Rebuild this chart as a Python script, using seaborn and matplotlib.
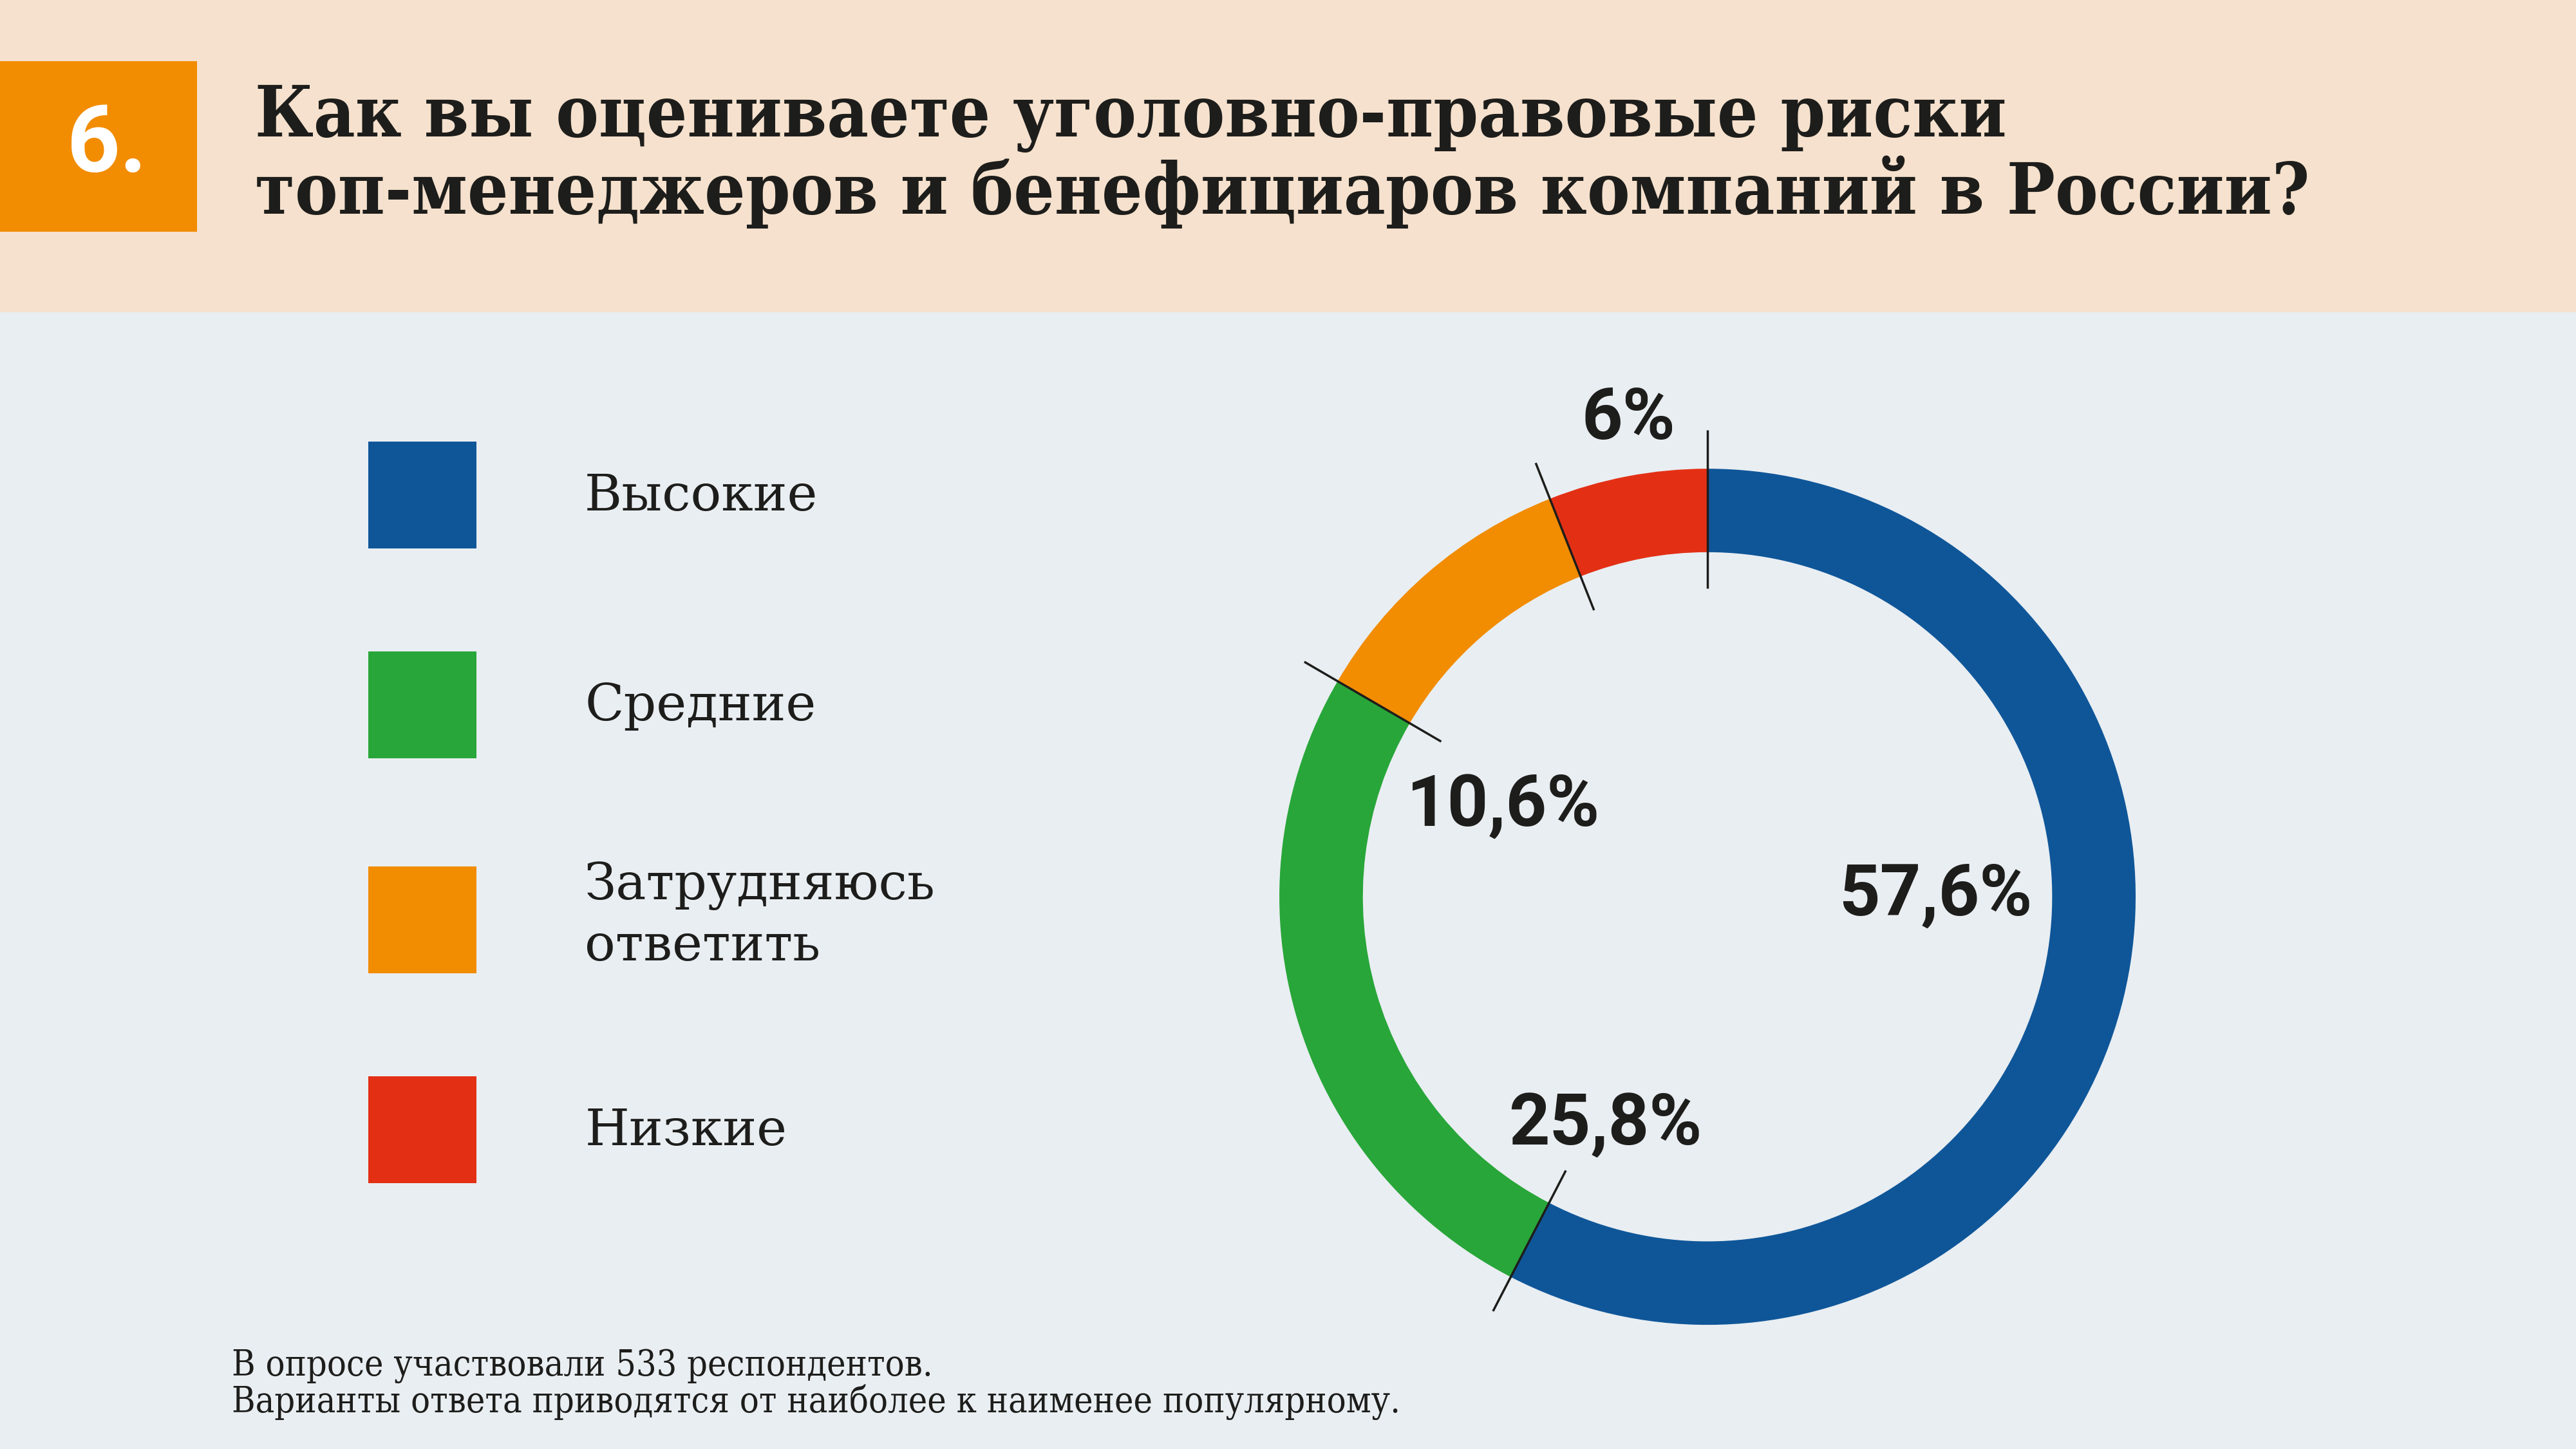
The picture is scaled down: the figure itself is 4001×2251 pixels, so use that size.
import matplotlib
matplotlib.use("Agg")
import matplotlib.pyplot as plt
import seaborn as sns
import numpy as np
from matplotlib.patches import Rectangle, Patch

# data
categories = ["Высокие", "Средние", "Затрудняюсь\nответить", "Низкие"]
shares = [57.6, 25.8, 10.6, 6.0]
share_labels = ["57,6%", "25,8%", "10,6%", "6%"]
colors = ["#0F5699", "#28A639", "#F28C00", "#E33015"]

title_lines = ["Как вы оцениваете уголовно-правовые риски",
               "топ-менеджеров и бенефициаров компаний в России?"]
note_lines = ["В опросе участвовали 533 респондентов.",
              "Варианты ответа приводятся от наиболее к наименее популярному."]

sns.set_theme(style="white")
plt.rcParams["font.family"] = ["DejaVu Serif", "DejaVu Sans"]
palette = sns.color_palette(colors)

BG = "#E9EEF2"
HEADER = "#F5E1CD"
INK = "#1D1D1B"

fig = plt.figure(figsize=(40.01, 22.51), dpi=100, facecolor=BG)

# header band and number box
fig.patches.append(Rectangle((0, 0.7845), 1, 0.2155, transform=fig.transFigure,
                             facecolor=HEADER, edgecolor="none", zorder=0))
fig.patches.append(Rectangle((0, 0.840), 0.0765, 0.118, transform=fig.transFigure,
                             facecolor="#F28C00", edgecolor="none", zorder=1))
fig.text(0.0415, 0.899, "6.", color="white", fontsize=104, fontweight="bold",
         family="Roboto", ha="center", va="center")

fig.text(0.099, 0.9058, title_lines[0], color=INK, fontsize=80, fontweight="bold",
         fontstretch="condensed", ha="left", va="baseline")
fig.text(0.099, 0.8525, title_lines[1], color=INK, fontsize=80, fontweight="bold",
         fontstretch="condensed", ha="left", va="baseline")

# donut
ax = fig.add_axes([0.4634, 0.0266, 0.3989, 0.709])
ax.pie(shares, colors=palette, startangle=90, counterclock=False, radius=1,
       wedgeprops=dict(width=0.195, edgecolor="none", linewidth=0))
ax.set_xlim(-1.2, 1.2)
ax.set_ylim(-1.2, 1.2)
ax.set_aspect("equal")
ax.axis("off")

# separator ticks at slice boundaries
starts = np.concatenate([[0], np.cumsum(shares)[:-1]])
for c in starts:
    th = np.deg2rad(90 - 3.6 * c)
    ax.plot([0.72 * np.cos(th), 1.09 * np.cos(th)],
            [0.72 * np.sin(th), 1.09 * np.sin(th)],
            color=INK, lw=2.5, solid_capstyle="butt", zorder=5)

label_pos = [(0.532, 0.003), (-0.239, -0.534), (-0.477, 0.211), (-0.185, 1.116)]
for txt, (x, y) in zip(share_labels, label_pos):
    ax.text(x, y, txt, color=INK, fontsize=80, fontweight="bold", family="Roboto",
            ha="center", va="center")

# legend
handles = [Patch(facecolor=c, edgecolor="none", label=l) for c, l in zip(palette, categories)]
fs = 57
px = fs * 100 / 72
leg = fig.legend(handles=handles, loc="upper left", bbox_to_anchor=(0.143, 0.6952),
                 frameon=False, fontsize=fs, handlelength=168 / px,
                 handleheight=(166 / px - 0.245) / 0.65,
                 handletextpad=168 / px, labelspacing=160 / px,
                 borderpad=0, borderaxespad=0)
for t in leg.get_texts():
    t.set_color(INK)
    t.set_linespacing(1.3)

# footnote
fig.text(0.09, 0.0506, note_lines[0], color=INK, fontsize=40, fontstretch="condensed",
         ha="left", va="baseline")
fig.text(0.09, 0.0253, note_lines[1], color=INK, fontsize=40, fontstretch="condensed",
         ha="left", va="baseline")

fig.savefig("out.png", dpi=100, facecolor=BG)
